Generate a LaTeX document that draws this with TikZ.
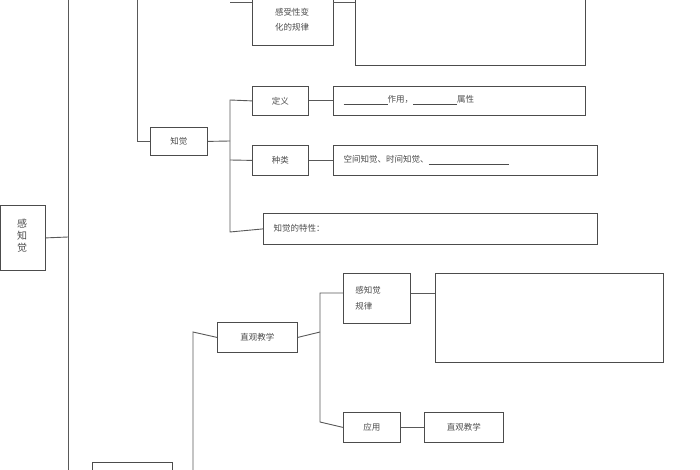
\documentclass[tikz,border=0pt]{standalone}
\usepackage{fontspec}
\newfontfamily\cjk{Noto Sans CJK SC}
\begin{document}
\begin{tikzpicture}[x=1pt,y=-1pt,
  bx/.style={draw=black!70,line width=0.8pt,inner sep=0pt,font=\cjk\fontsize{8.5}{12}\selectfont,text=black!70},
  ln/.style={draw=black!65,line width=0.9pt}]
\useasboundingbox (0,0) rectangle (700,470);
\clip (0,0) rectangle (700,470);
\def\B#1#2#3#4#5#6{\node[bx,minimum width=#4-#2,minimum height=#5-#3,anchor=north west] (#1) at (#2,#3) {#6};}
\B{root}{0}{205}{45}{270}{}
\node[font=\cjk\fontsize{10}{12}\selectfont,text=black!70,align=center] at (22,236) {感\\知\\觉};
\B{gsx}{252}{-20}{333}{45}{}
\node[font=\cjk\fontsize{8.5}{15}\selectfont,text=black!70,align=left] at (292,20) {感受性变\\化的规律};
\B{big1}{355}{-20}{585}{65}{}
\B{zj}{150}{127}{207}{155}{知觉}
\B{dy}{252}{86}{308}{115}{定义}
\B{dyb}{333}{86}{585}{115}{}
\node[font=\cjk\fontsize{8.5}{12}\selectfont,text=black!70,anchor=west] at (340,100) {\underline{\hspace{44pt}}作用，\underline{\hspace{44pt}}属性};
\B{zl}{252}{145}{308}{175}{种类}
\B{zlb}{333}{145}{597}{175}{}
\node[font=\cjk\fontsize{8.5}{12}\selectfont,text=black!70,anchor=west] at (340,160) {空间知觉、时间知觉、\underline{\hspace{80pt}}};
\B{tx}{263}{213}{597}{244}{}
\node[font=\cjk\fontsize{8.5}{12}\selectfont,text=black!70,anchor=west] at (270,228) {知觉的特性：};
\B{zg}{217}{322}{297}{352}{直观教学}
\B{gz}{343}{273}{410}{323}{}
\node[font=\cjk\fontsize{8.5}{16}\selectfont,text=black!70,align=left] at (368,298) {感知觉\\规律};
\B{big2}{435}{273}{663}{362}{}
\B{yy}{343}{412}{400}{442}{应用}
\B{zg2}{424}{412}{503}{442}{直观教学}
\B{bot}{92}{462}{172}{490}{}
\coordinate (v1t) at (68,0); \coordinate (v1b) at (68,470);
\draw[ln] (v1t)--(v1b);
\draw[ln] (root.east)--(68,237);
\draw[ln] (137,0)--(137,141)--(zj.west|-0,141);
\draw[ln] (230,2)--(252,2); \draw[ln] (333,2)--(355,2);
\draw[ln] (zj.east)--(230,141);
\draw[ln] (dy.west)--(230,100)--(230,232)--(tx.west);
\draw[ln] (zl.west)--(230,160);
\draw[ln] (dy.east)--(dyb.west);
\draw[ln] (zl.east)--(zlb.west);
\draw[ln] (zg.west)--(193,332)--(193,470);
\draw[ln] (bot.east)--(193,475);
\draw[ln] (zg.east)--(320,332);
\draw[ln] (gz.west|-0,293)--(320,293)--(320,422)--(yy.west);
\draw[ln] (gz.east|-0,293)--(big2.west|-0,293);
\draw[ln] (yy.east)--(zg2.west);
\end{tikzpicture}
\end{document}
